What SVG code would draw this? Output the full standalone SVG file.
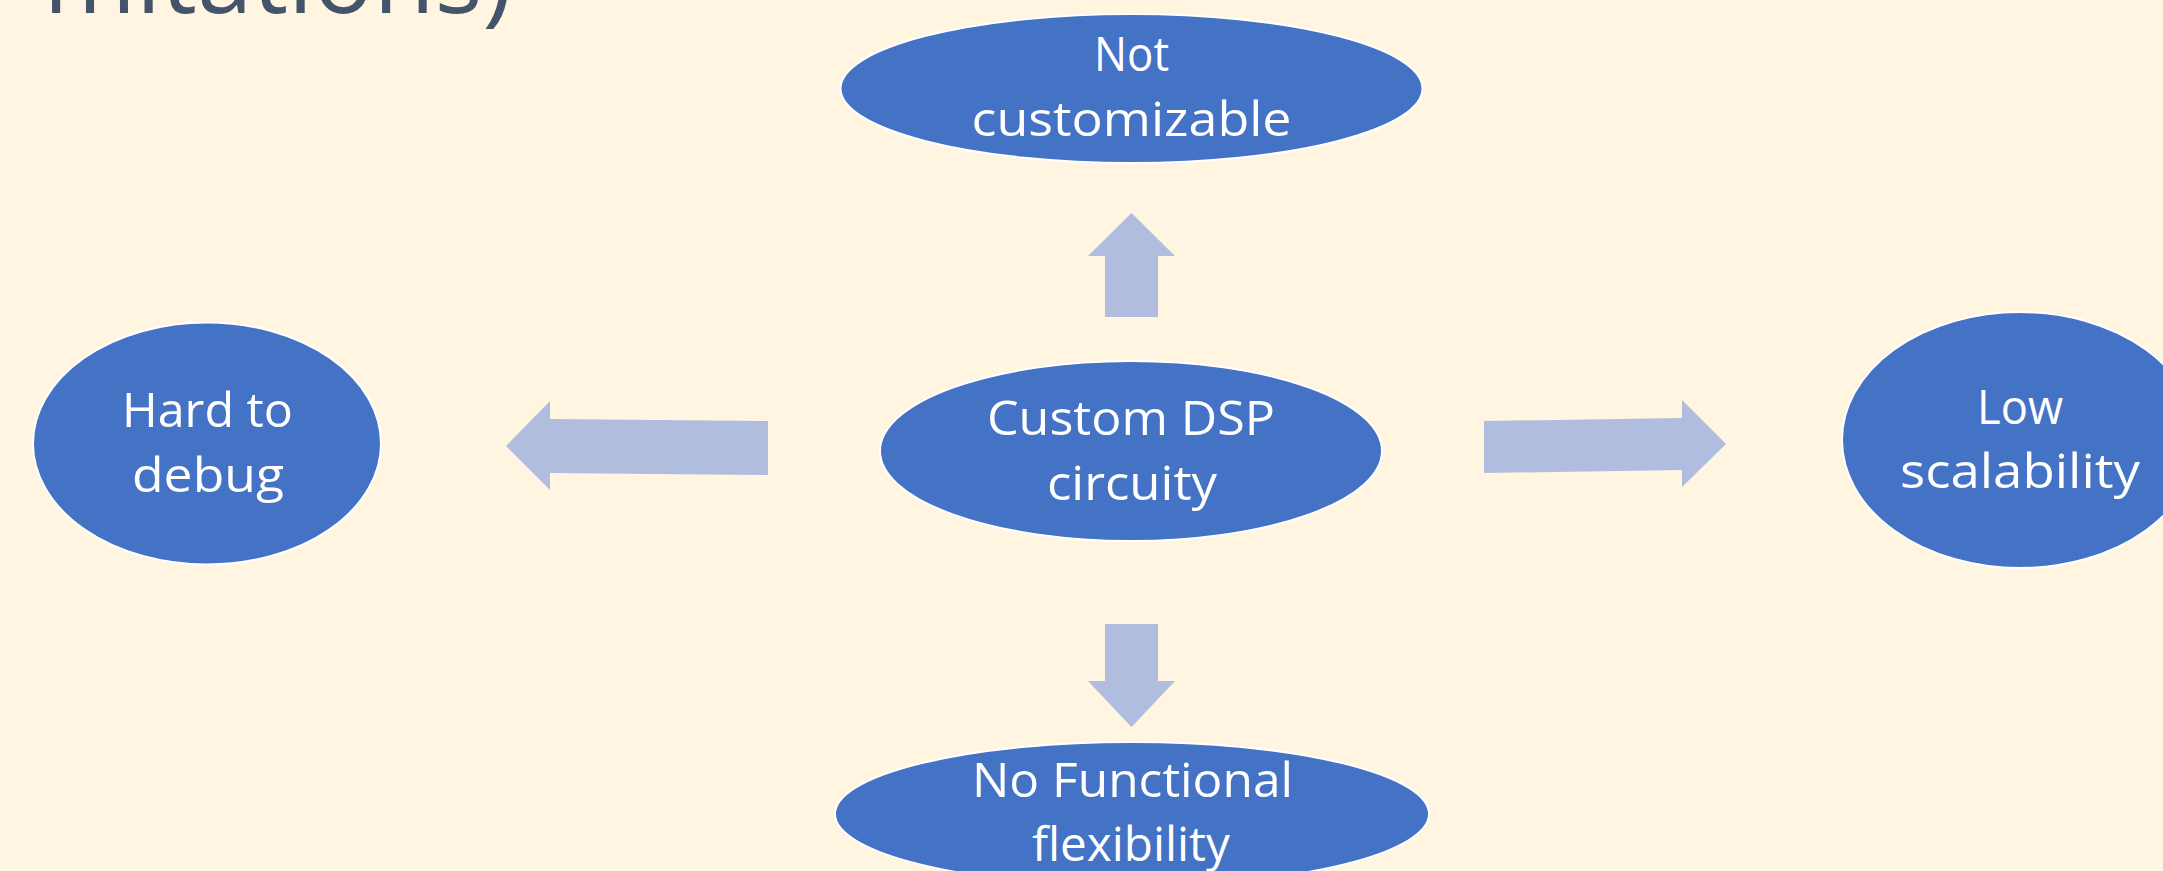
<svg xmlns="http://www.w3.org/2000/svg" width="2163" height="871" viewBox="0 0 2163 871">
<style>
.bg{fill:#FFF5E1}
.node ellipse{fill:#4472C4;stroke:#FFFFFF;stroke-width:2}
.node text{fill:#FFFFFF;font-family:"Open Sans","Noto Sans",sans-serif;font-size:48px;text-anchor:middle}
.arrow{fill:#B0BDDF}
.title{fill:#44546A;font-family:"Open Sans","Noto Sans",sans-serif;font-size:100px;text-anchor:end}
</style>
<rect class="bg" x="0" y="0" width="2163" height="871"/>
<text class="title" x="512" y="13">mitations)</text>
<g id="connectors">
<polygon class="arrow" points="1131.5,213 1175,256 1158,256 1158,317 1105,317 1105,256 1088,256"/>
<polygon class="arrow" points="1105,624 1158,624 1158,681 1175,681 1131.5,727 1088,681 1105,681"/>
<polygon class="arrow" points="506,446 550,401 550,419 768,421 768,475 550,473 550,490"/>
<polygon class="arrow" points="1484,421 1682,418 1682,400 1726,444 1682,487 1682,470 1484,473"/>
</g>
<g id="node-top" class="node">
<ellipse cx="1131.5" cy="88.5" rx="291" ry="74.5"/>
<text x="1131.5" y="71" textLength="75" lengthAdjust="spacingAndGlyphs">Not</text>
<text x="1131.5" y="136" textLength="320" lengthAdjust="spacingAndGlyphs">customizable</text>
</g>
<g id="node-center" class="node">
<ellipse cx="1131" cy="451" rx="251" ry="90"/>
<text x="1131" y="435" textLength="288" lengthAdjust="spacingAndGlyphs">Custom DSP</text>
<text x="1132" y="500" textLength="170" lengthAdjust="spacingAndGlyphs">circuity</text>
</g>
<g id="node-left" class="node">
<ellipse cx="207" cy="443.5" rx="174" ry="121"/>
<text x="207.5" y="427" textLength="171" lengthAdjust="spacingAndGlyphs">Hard to</text>
<text x="208" y="492" textLength="152" lengthAdjust="spacingAndGlyphs">debug</text>
</g>
<g id="node-right" class="node">
<ellipse cx="2020" cy="440" rx="178" ry="128"/>
<text x="2020" y="424" textLength="86" lengthAdjust="spacingAndGlyphs">Low</text>
<text x="2020" y="488" textLength="240" lengthAdjust="spacingAndGlyphs">scalability</text>
</g>
<g id="node-bottom" class="node">
<ellipse cx="1132" cy="814" rx="297" ry="72"/>
<text x="1132.5" y="797" textLength="321" lengthAdjust="spacingAndGlyphs">No Functional</text>
<text x="1131" y="861" textLength="198" lengthAdjust="spacingAndGlyphs">flexibility</text>
</g>
</svg>
